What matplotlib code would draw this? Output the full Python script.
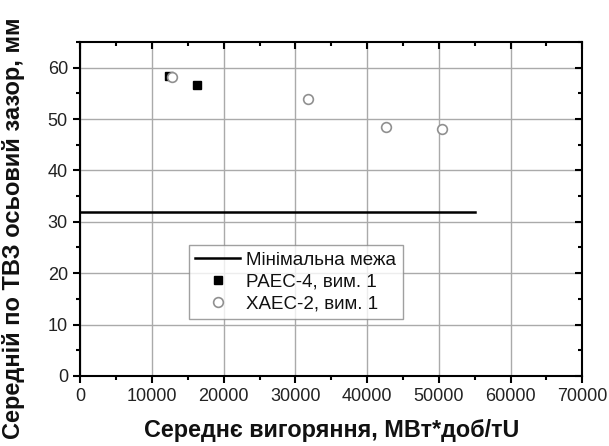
import matplotlib
matplotlib.use("Agg")
import matplotlib.pyplot as plt
from matplotlib.ticker import MultipleLocator

plt.rcParams['font.family'] = ['Liberation Sans', 'DejaVu Sans']

# Minimum axial gap limit
limit_x = [0, 55000]
limit_y = [32, 32]

# РАЕС-4 measurements
raes_burnup = [12300, 16200]
raes_gap = [58.3, 56.7]

# ХАЕС-2 measurements
haes_burnup = [12800, 31800, 42600, 50500]
haes_gap = [58.1, 53.8, 48.4, 48.1]

x_ticks = [0, 10000, 20000, 30000, 40000, 50000, 60000, 70000]
y_ticks = [0, 10, 20, 30, 40, 50, 60]

fig = plt.figure(figsize=(6.09, 4.46), dpi=100)
ax = fig.add_axes([0.132, 0.157, 0.824, 0.749])

ax.plot(limit_x, limit_y, color='black', lw=1.8, label='Мінімальна межа', zorder=3)
ax.plot(raes_burnup, raes_gap, ls='none', marker='s', ms=5.5, mfc='black', mec='black',
        label='РАЕС-4, вим. 1', zorder=4)
ax.plot(haes_burnup, haes_gap, ls='none', marker='o', ms=7, mfc='white', mec='#909090',
        mew=1.2, label='ХАЕС-2, вим. 1', zorder=5)

ax.set_xlim(0, 70000)
ax.set_ylim(0, 65)
ax.set_xticks(x_ticks)
ax.set_yticks(y_ticks)
ax.xaxis.set_minor_locator(MultipleLocator(5000))
ax.yaxis.set_minor_locator(MultipleLocator(5))

ax.grid(True, which='major', color='#aaaaaa', lw=1.0)
ax.set_axisbelow(True)

for s in ax.spines.values():
    s.set_linewidth(1.5)
    s.set_color('black')

ax.tick_params(which='major', direction='out', length=5, width=1.5, labelsize=13,
               labelcolor='#222222', pad=4)
ax.tick_params(which='minor', direction='out', length=3, width=1.5)
ax.tick_params(which='both', top=True, right=True)

# top/right ticks point inward
for t in ax.xaxis.get_major_ticks() + ax.xaxis.get_minor_ticks():
    t.tick2line.set_marker(matplotlib.lines.TICKDOWN)
for t in ax.yaxis.get_major_ticks() + ax.yaxis.get_minor_ticks():
    t.tick2line.set_marker(matplotlib.lines.TICKLEFT)

ax.set_xlabel('Середнє вигоряння, МВт*доб/тU', fontsize=16.8, fontweight='bold',
              color='#111111', labelpad=10)
ax.set_ylabel('Середній по ТВЗ осьовий зазор, мм', fontsize=17, fontweight='bold',
              color='#111111')
ax.yaxis.set_label_coords(-0.111, 0.443)

leg = ax.legend(loc='upper left', bbox_to_anchor=(0.216, 0.392), borderaxespad=0,
                fontsize=13.5, frameon=True, fancybox=False, edgecolor='#888888',
                handlelength=2.4, handletextpad=0.3, borderpad=0.35, labelspacing=0.25)
leg.get_frame().set_linewidth(1.0)
for txt in leg.get_texts():
    txt.set_color('#111111')

fig.savefig('out.png', dpi=100)
